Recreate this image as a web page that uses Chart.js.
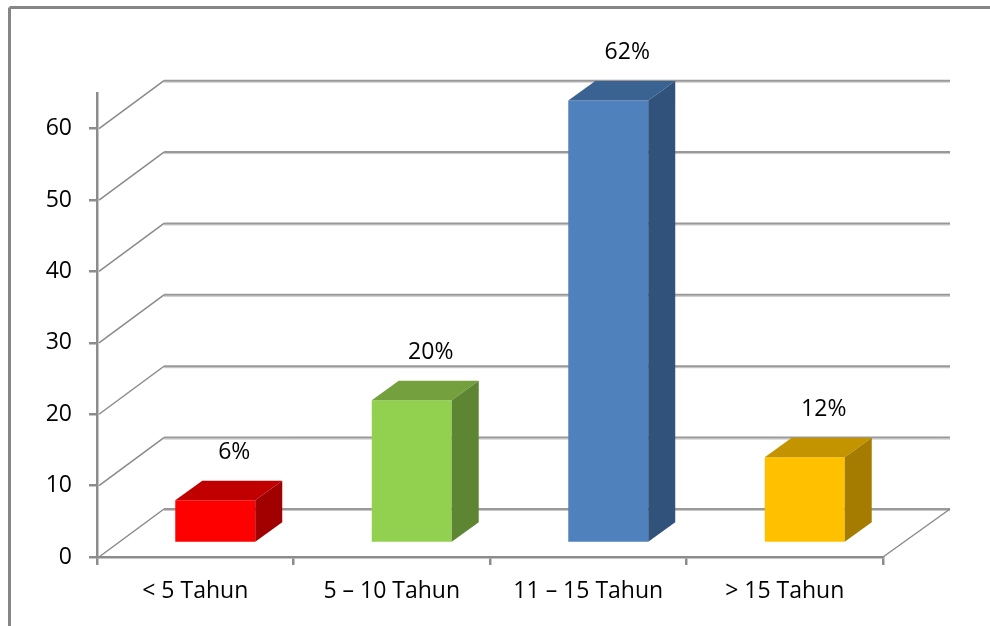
<!DOCTYPE html>
<html>
<head>
  <title>Masa Kerja</title>
  <script src="https://cdn.jsdelivr.net/npm/chart.js"></script>
  <style>body { margin: 0; background: #fff; }</style>
</head>
<body>
  <canvas id="chart" width="990" height="626"></canvas>
  <script>
    const kategori = ['< 5 Tahun', '5 – 10 Tahun', '11 – 15 Tahun', '> 15 Tahun'];
    const persen = [6, 20, 62, 12];
    const labelPersen = ['6%', '20%', '62%', '12%'];
    const yTicks = [0, 10, 20, 30, 40, 50, 60];

    // tampilan 3D
    const WALL = { dx: 67, dy: -48 };
    const SHIFT = { dx: 20, dy: -14 };
    const DEPTH = { dx: 27, dy: -19.5 };
    const depan = ['#FF0000', '#92D050', '#4F81BD', '#FFC000'];
    const atas = ['#C00000', '#74A03E', '#3B6391', '#C49300'];
    const sisi = ['#A00000', '#5E8532', '#30527B', '#A67C00'];
    const gray = '#8c8c8c';
    const font = { family: 'Open Sans', size: 23 };

    function line(ctx, x1, y1, x2, y2) {
      ctx.beginPath();
      ctx.moveTo(x1, y1);
      ctx.lineTo(x2, y2);
      ctx.stroke();
    }

    const tigaD = {
      id: 'tigaD',
      beforeDraw(chart) {
        const ctx = chart.ctx;
        ctx.save();
        ctx.strokeStyle = '#868686';
        ctx.lineWidth = 3;
        line(ctx, 9.5, 626, 9.5, 7.5);
        line(ctx, 9.5, 7.5, 990, 7.5);
        ctx.restore();
      },
      beforeDatasetsDraw(chart) {
        const { ctx, scales: { x, y } } = chart;
        ctx.save();
        yTicks.forEach(v => {
          const py = y.getPixelForValue(v);
          ctx.strokeStyle = '#8a8a8a';
          ctx.lineWidth = 1.5;
          line(ctx, x.left + 2, py, x.left + WALL.dx, py + WALL.dy);
          ctx.strokeStyle = '#c8c8c8';
          ctx.lineWidth = 1;
          line(ctx, x.left + WALL.dx, py + WALL.dy + 1.5, x.right + WALL.dx, py + WALL.dy + 1.5);
          ctx.strokeStyle = '#999';
          ctx.lineWidth = 2;
          line(ctx, x.left + WALL.dx, py + WALL.dy, x.right + WALL.dx, py + WALL.dy);
        });
        const p0 = y.getPixelForValue(0);
        ctx.strokeStyle = '#8a8a8a';
        ctx.lineWidth = 1.5;
        line(ctx, x.right, p0, x.right + WALL.dx, p0 + WALL.dy);
        ctx.restore();
        ctx.save();
        ctx.translate(SHIFT.dx, SHIFT.dy);
      },
      afterDatasetsDraw(chart) {
        const ctx = chart.ctx;
        chart.getDatasetMeta(0).data.forEach((bar, i) => {
          const { x, y, base, width } = bar.getProps(['x', 'y', 'base', 'width'], true);
          const l = x - width / 2, r = x + width / 2;
          ctx.fillStyle = atas[i];
          ctx.beginPath();
          ctx.moveTo(l, y);
          ctx.lineTo(l + DEPTH.dx, y + DEPTH.dy);
          ctx.lineTo(r + DEPTH.dx, y + DEPTH.dy);
          ctx.lineTo(r, y);
          ctx.closePath();
          ctx.fill();
          ctx.fillStyle = sisi[i];
          ctx.beginPath();
          ctx.moveTo(r, y);
          ctx.lineTo(r + DEPTH.dx, y + DEPTH.dy);
          ctx.lineTo(r + DEPTH.dx, base + DEPTH.dy);
          ctx.lineTo(r, base);
          ctx.closePath();
          ctx.fill();
          ctx.fillStyle = '#000';
          ctx.font = '23px "Open Sans"';
          ctx.textAlign = 'center';
          ctx.textBaseline = 'middle';
          ctx.fillText(labelPersen[i], x + 19, y - 48);
        });
        ctx.restore();
      }
    };

    new Chart(document.getElementById('chart'), {
      type: 'bar',
      data: {
        labels: kategori,
        datasets: [{
          data: persen,
          backgroundColor: depan,
          borderWidth: 0,
          barPercentage: 0.407,
          categoryPercentage: 1,
          clip: false
        }]
      },
      options: {
        responsive: false,
        animation: false,
        layout: { padding: { top: 93, right: 107, left: 0, bottom: 0 } },
        plugins: { legend: { display: false }, tooltip: { enabled: false } },
        scales: {
          x: {
            afterFit(s) { s.height = 69; },
            border: { display: true, color: gray, width: 2.5 },
            grid: { offset: true, drawOnChartArea: false, tickLength: 8, color: gray, lineWidth: 2.5 },
            ticks: { padding: 13, color: '#000', font }
          },
          y: {
            min: 0,
            max: 65,
            afterFit(s) { s.width = 97; },
            afterBuildTicks(s) { s.ticks = yTicks.map(v => ({ value: v })); },
            border: { display: true, color: gray, width: 2.5 },
            grid: { drawOnChartArea: false, tickLength: 8, color: gray, lineWidth: 2.5 },
            ticks: { padding: 17, color: '#000', font }
          }
        }
      },
      plugins: [tigaD]
    });
  </script>
</body>
</html>
